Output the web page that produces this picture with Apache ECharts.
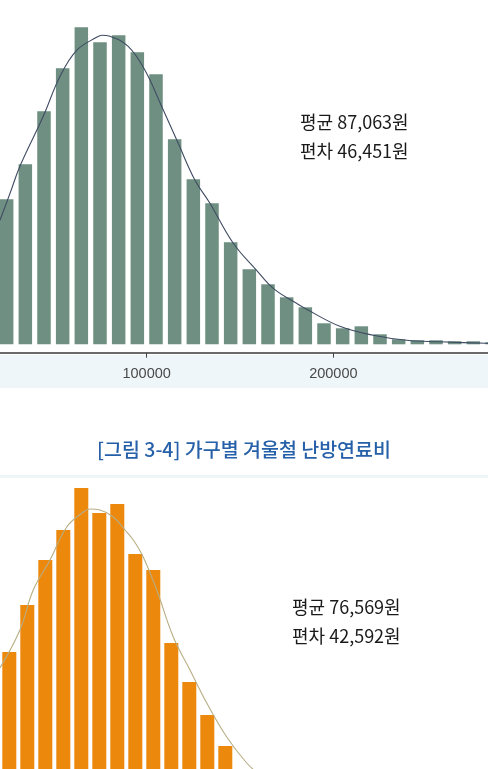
<!DOCTYPE html>
<html>
<head>
<meta charset="utf-8">
<script src="https://cdn.jsdelivr.net/npm/echarts@6/dist/echarts.min.js"></script>
<style>
html,body{margin:0;padding:0;background:#fff;}
#c{width:488px;height:769px;}
</style>
</head>
<body>
<div id="c"></div>
<script>
// ---- Top histogram (bin centers in won, frequencies) ----
const topBinCenters = [25000, 35000, 45000, 55000, 65000, 75000, 85000, 95000, 105000, 115000,
  125000, 135000, 145000, 155000, 165000, 175000, 185000, 195000, 205000, 215000,
  225000, 235000, 245000, 255000, 265000, 275000, 285000];
const topFreq = [145, 180, 233, 276, 317, 302, 309, 292, 270, 205,
  165, 141, 102, 75, 60, 47, 37, 21, 16, 18,
  10, 5, 4, 4, 3, 3, 2];
const topCurveX = [21400, 26800, 32100, 44600, 53600, 62500, 73200, 76100, 80300, 90100,
  99100, 108000, 116900, 125900, 133900, 146400, 158900, 167800, 180300, 185700,
  203500, 221400, 239300, 257100, 282100, 292000];
const topCurveY = [124, 151, 178, 228, 268, 294, 307, 309, 308, 298,
  274, 238, 201, 164, 141, 101, 74, 56, 41, 35,
  18, 9, 4, 2.5, 1, 0.8];
const topTicks = [0, 100000, 200000, 300000];
const topNote = ['평균 87,063원', '편차 46,451원'];

// ---- Bottom histogram ----
const botBinCenters = [25000, 35000, 45000, 55000, 65000, 75000, 85000, 95000, 105000, 115000,
  125000, 135000, 145000, 155000];
const botFreq = [158, 205, 250, 280, 322, 297, 306, 256, 240, 167, 128, 95, 64, 38];
const botCurveX = [19800, 30900, 38300, 47600, 56900, 66100, 69800, 75400, 82800, 89300,
  93900, 99400, 106900, 116100, 125400, 134700, 145800, 156900, 164300];
const botCurveY = [142, 180, 220, 250, 283, 298, 301, 300, 293, 280,
  270, 253, 220, 173, 140, 107, 73, 47, 35];
const botNote = ['평균 76,569원', '편차 42,592원'];

const figTitle = '[그림 3-4] 가구별 겨울철 난방연료비';

const pair = (xs, ys) => xs.map((x, i) => [x, ys[i]]);

const chart = echarts.init(document.getElementById('c'), null, {renderer: 'canvas'});
const cjk = '"Noto Sans CJK KR", "Noto Sans", sans-serif';

const noteStyle = (t) => ({text: t, fill: '#1a1a1a', font: '18px ' + cjk,
  textAlign: 'left', textVerticalAlign: 'middle'});

chart.setOption({
  animation: false,
  backgroundColor: '#ffffff',
  grid: [
    {left: -40, width: 560, top: 4.3, height: 348.4, outerBoundsMode: 'none', containLabel: false},
    {left: -35.7, width: 540, top: 470, height: 340, outerBoundsMode: 'none', containLabel: false}
  ],
  xAxis: [
    {
      gridIndex: 0, type: 'value', min: topTicks[0], max: topTicks[3], interval: 100000,
      splitLine: {show: false},
      axisLine: {show: true, onZero: false, lineStyle: {color: '#6a6a6a', width: 1.8}},
      axisTick: {show: true, length: 5, lineStyle: {color: '#444', width: 1}},
      axisLabel: {color: '#4a4a4a', fontSize: 14.5, fontFamily: '"Liberation Sans", sans-serif', margin: 14,
        formatter: v => String(v)}
    },
    {
      gridIndex: 1, type: 'value', min: 0, max: 300000, interval: 100000, show: false,
      splitLine: {show: false}
    }
  ],
  yAxis: [
    {gridIndex: 0, type: 'value', min: -8.4, max: 340, show: false, splitLine: {show: false}},
    {gridIndex: 1, type: 'value', min: 0, max: 340, show: false, splitLine: {show: false}}
  ],
  graphic: [
    {type: 'rect', z: -10, shape: {x: 0, y: 355, width: 488, height: 33}, style: {fill: '#eef6f9'}},
    {type: 'rect', z: -10, shape: {x: 0, y: 475, width: 488, height: 3}, style: {fill: '#eef5f7'}},
    {type: 'text', x: 244, y: 450, style: {text: figTitle, fill: '#2660a8', font: '500 19.5px ' + cjk,
      textAlign: 'center', textVerticalAlign: 'middle'}},
    {type: 'text', x: 300, y: 122, style: noteStyle(topNote[0])},
    {type: 'text', x: 300, y: 151, style: noteStyle(topNote[1])},
    {type: 'text', x: 292, y: 607.5, style: noteStyle(botNote[0])},
    {type: 'text', x: 292, y: 636, style: noteStyle(botNote[1])}
  ],
  series: [
    {
      type: 'bar', xAxisIndex: 0, yAxisIndex: 0, barWidth: 13.5,
      itemStyle: {color: '#6e8f81'},
      data: pair(topBinCenters, topFreq)
    },
    {
      type: 'line', xAxisIndex: 0, yAxisIndex: 0, smooth: 0.4, symbol: 'none', z: 5,
      lineStyle: {color: '#3f4b62', width: 1.1},
      data: pair(topCurveX, topCurveY)
    },
    {
      type: 'bar', xAxisIndex: 1, yAxisIndex: 1, barWidth: 14,
      itemStyle: {color: '#ec880c'},
      data: pair(botBinCenters, botFreq)
    },
    {
      type: 'line', xAxisIndex: 1, yAxisIndex: 1, smooth: 0.4, symbol: 'none', z: 5,
      lineStyle: {color: '#b9ad84', width: 1.1},
      data: pair(botCurveX, botCurveY)
    }
  ]
});
</script>
</body>
</html>
